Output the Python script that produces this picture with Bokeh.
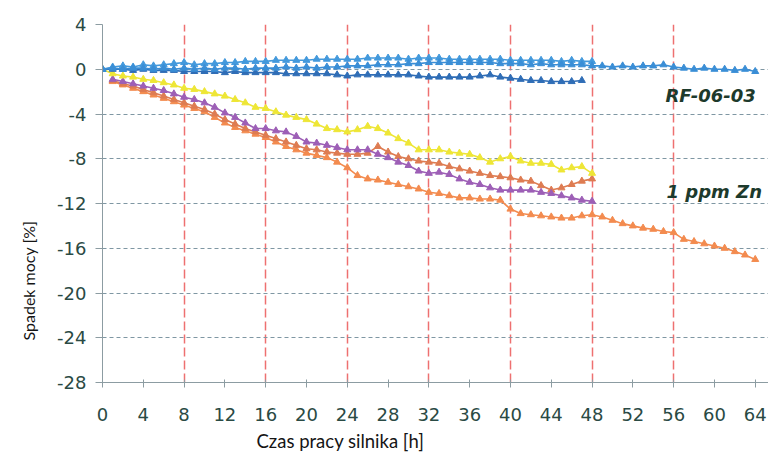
from bokeh.plotting import figure
from bokeh.models import Range1d, FixedTicker, Label, Title
from bokeh.embed import file_html
from bokeh.resources import INLINE

# ---- data ----
blue_a_start = 0
blue_a = [0, 0.1, 0.0, 0.1, 0.1, 0.0, 0.1, 0.0, 0.1, 0.0,
          0.1, 0.0, 0.1, 0.1, 0.0, 0.1, 0.1, 0.1, 0.2, 0.1,
          0.2, 0.1, 0.2, 0.2, 0.3, 0.3, 0.3, 0.4, 0.4, 0.4,
          0.5, 0.5, 0.6, 0.6, 0.6, 0.6, 0.6, 0.6, 0.6, 0.5,
          0.5, 0.5, 0.4, 0.5, 0.4, 0.4, 0.4, 0.4, 0.3, 0.3,
          0.2, 0.3, 0.2, 0.3, 0.3, 0.4, 0.2, 0.1, 0.0, 0.1,
          0.0, 0.0, -0.1, 0.0, -0.2]
blue_b_start = 0
blue_b = [0, 0.2, 0.3, 0.2, 0.4, 0.3, 0.4, 0.5, 0.6, 0.4,
          0.5, 0.5, 0.6, 0.6, 0.7, 0.7, 0.7, 0.8, 0.8, 0.8,
          0.8, 0.9, 0.9, 0.9, 0.9, 0.9, 1.0, 1.0, 1.0, 1.0,
          0.9, 1.0, 1.0, 1.0, 0.9, 0.9, 0.9, 0.9, 0.9, 0.9,
          0.8, 0.8, 0.8, 0.8, 0.8, 0.7, 0.8, 0.7, 0.7]
blue_c_start = 0
blue_c = [0, 0.0, 0.0, -0.1, 0.0, -0.1, -0.1, -0.1, -0.2, -0.2,
          -0.2, -0.2, -0.3, -0.2, -0.3, -0.3, -0.3, -0.3, -0.4, -0.4,
          -0.4, -0.4, -0.4, -0.5, -0.6, -0.5, -0.5, -0.5, -0.5, -0.5,
          -0.5, -0.6, -0.7, -0.7, -0.7, -0.7, -0.7, -0.6, -0.5, -0.7,
          -0.8, -0.9, -1.0, -1.0, -1.1, -1.1, -1.1, -1.0]
yellow_start = 0
yellow = [0, -0.4, -0.6, -0.7, -0.9, -1.0, -1.2, -1.4, -1.7, -1.8,
          -2.0, -2.2, -2.4, -2.7, -3.0, -3.4, -3.5, -3.8, -4.1, -4.3,
          -4.5, -4.9, -5.3, -5.4, -5.6, -5.4, -5.1, -5.3, -5.7, -6.2,
          -6.6, -7.2, -7.2, -7.2, -7.4, -7.5, -7.6, -7.9, -8.3, -8.0,
          -7.8, -8.2, -8.4, -8.4, -8.5, -9.0, -8.8, -8.7, -9.3]
purple_start = 1
purple = [-0.9, -1.1, -1.3, -1.5, -1.7, -1.9, -2.2, -2.5, -2.7, -3.0,
          -3.4, -3.9, -4.3, -4.8, -5.3, -5.3, -5.5, -5.6, -6.0, -6.5,
          -6.6, -6.8, -7.0, -7.2, -7.2, -7.2, -7.6, -7.9, -8.3, -8.6,
          -9.1, -9.3, -9.2, -9.4, -9.8, -10.1, -10.3, -10.6, -10.8, -10.8,
          -10.8, -10.8, -11.0, -11.1, -11.3, -11.5, -11.7, -11.8]
orange_dark_start = 1
orange_dark = [-1.0, -1.3, -1.5, -1.8, -2.1, -2.4, -2.7, -3.0, -3.3, -3.6,
               -4.0, -4.5, -4.9, -5.3, -5.6, -5.9, -6.2, -6.5, -6.8, -7.1,
               -7.2, -7.4, -7.5, -7.6, -7.6, -7.5, -6.9, -7.4, -7.8, -8.0,
               -8.2, -8.3, -8.4, -8.7, -8.9, -9.1, -9.3, -9.5, -9.6, -9.7,
               -9.9, -10.0, -10.4, -10.8, -10.6, -10.3, -10.0, -9.8]
orange_light_start = 1
orange_light = [-1.1, -1.4, -1.7, -2.0, -2.3, -2.6, -2.9, -3.2, -3.5, -3.8,
                -4.3, -4.8, -5.2, -5.5, -5.8, -6.1, -6.5, -6.9, -7.2, -7.5,
                -7.7, -7.9, -8.3, -8.8, -9.5, -9.8, -9.9, -10.1, -10.3, -10.5,
                -10.7, -11.0, -11.1, -11.3, -11.5, -11.5, -11.6, -11.6, -11.7, -12.5,
                -12.9, -13.0, -13.1, -13.2, -13.3, -13.3, -13.1, -13.0, -13.2, -13.5,
                -13.8, -14.0, -14.2, -14.3, -14.5, -14.6, -15.2, -15.4, -15.6, -15.8,
                -16.0, -16.3, -16.6, -17.0]

x_ticks = [0, 4, 8, 12, 16, 20, 24, 28, 32, 36, 40, 44, 48, 52, 56, 60, 64]
y_ticks = [4, 0, -4, -8, -12, -16, -20, -24, -28]
x_grid = [8, 16, 24, 32, 40, 48, 56]
y_grid = [0, -4, -8, -12, -16, -20, -24]

x_title = "Czas pracy silnika [h]"
y_title = "Spadek mocy [%]"
label_rf = "RF-06-03"
label_zn = "1 ppm Zn"

# ---- figure ----
p = figure(width=768, height=455, output_backend="svg", toolbar_location=None,
           x_range=Range1d(0, 65.3), y_range=Range1d(-28, 4),
           min_border_left=102, min_border_right=0, min_border_top=24, min_border_bottom=72)
p.outline_line_color = None
p.background_fill_color = "white"
p.border_fill_color = "white"

tick_color = "#2a4a44"
axis_color = "#8c9ca2"

for ax in (p.xaxis[0], p.yaxis[0]):
    ax.axis_line_color = axis_color
    ax.major_tick_line_color = axis_color
    ax.minor_tick_line_color = None
    ax.major_label_text_font = "DejaVu Sans"
    ax.major_label_text_font_size = "18px"
    ax.major_label_text_color = tick_color

p.xaxis.ticker = FixedTicker(ticks=x_ticks)
p.yaxis.ticker = FixedTicker(ticks=y_ticks)
p.xaxis.major_label_overrides = {t: str(t) for t in x_ticks}
p.yaxis.major_label_overrides = {t: str(t) for t in y_ticks}
p.xaxis.major_tick_in = 3
p.xaxis.major_tick_out = 5
p.xaxis.major_label_standoff = 20
p.yaxis.major_tick_in = 0
p.yaxis.major_tick_out = 7
p.yaxis.major_label_standoff = 9

p.xgrid.ticker = FixedTicker(ticks=x_grid)
p.xgrid.grid_line_color = "#ee7070"
p.xgrid.grid_line_width = 1.5
p.xgrid.grid_line_dash = "9 4"
p.ygrid.ticker = FixedTicker(ticks=y_grid)
p.ygrid.grid_line_color = "#7f97a3"
p.ygrid.grid_line_width = 1
p.ygrid.grid_line_dash = "4 3"

series = [
    (orange_light_start, orange_light, "#f38b4f"),
    (orange_dark_start, orange_dark, "#de7c52"),
    (purple_start, purple, "#9d5fb6"),
    (yellow_start, yellow, "#eee636"),
    (blue_c_start, blue_c, "#2f6db6"),
    (blue_b_start, blue_b, "#4399dc"),
    (blue_a_start, blue_a, "#3a8ed6"),
]
for start, vals, col in series:
    xs = [start + i for i in range(len(vals))]
    p.line(xs, vals, line_color=col, line_width=1.6)
    p.scatter(xs, vals, marker="triangle", size=7, fill_color=col, line_color=col)

lab_color = "#1d3a2c"
p.add_layout(Label(x=55.2, y=-2.35, text=label_rf, text_font="DejaVu Sans",
                   text_font_style="bold italic", text_font_size="18px",
                   text_color=lab_color, text_baseline="alphabetic"))
p.add_layout(Label(x=55.3, y=-10.95, text=label_zn, text_font="DejaVu Sans",
                   text_font_style="bold italic", text_font_size="18px",
                   text_color=lab_color, text_baseline="alphabetic"))

# axis titles, placed off-centre like in the reference
xt = Title(text=x_title, align="left", offset=154, standoff=8,
           text_font="Lato", text_font_size="18.5px", text_font_style="normal",
           text_color="#151515")
p.add_layout(xt, "below")
yt = Title(text=y_title, align="left", offset=42, standoff=31, vertical_align="middle",
           text_font="Lato", text_font_size="16px", text_font_style="normal",
           text_color="#151515")
p.add_layout(yt, "left")

open("out.html", "w").write(file_html(p, INLINE))
